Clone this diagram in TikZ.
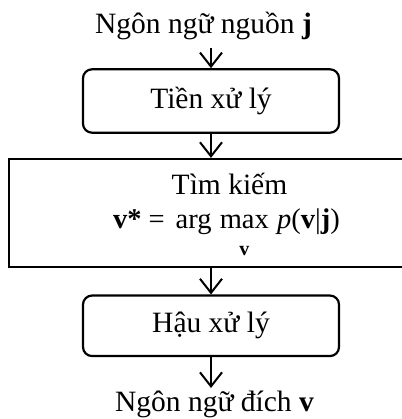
\documentclass[tikz,border=0pt]{standalone}
\usepackage{amsmath}
\usepackage{fontspec}
\setmainfont{Liberation Serif}
\usetikzlibrary{arrows.meta}
\begin{document}
\begin{tikzpicture}[x=1pt,y=1pt,
  every node/.style={font=\fontsize{29.5}{34}\selectfont},
  rbox/.style={draw, line width=2.2pt, rounded corners=9pt, minimum width=256pt, inner sep=0pt},
  sbox/.style={draw, line width=2.2pt, minimum width=438pt, minimum height=108pt, inner sep=0pt},
  txt/.style={inner sep=0pt, anchor=base},
  arr/.style={line width=2pt, -{Straight Barb[length=14pt,width=22pt]}}]
\useasboundingbox (0,0) rectangle (401,-419);
\node[txt] (src) at (203.5,-33.3) {Ngôn ngữ nguồn \textbf{j}};
\node[rbox, minimum height=63.4pt] (pre) at (211,-101) {Tiền xử lý};
\node[sbox] (search) at (228,-213) {};
\node[txt] (searchA) at (229.5,-195) {Tìm kiếm};
\node[txt, font=\fontsize{28.5}{34}\selectfont] (searchB) at (226.5,-228) {$\textbf{v*}\mathrel{\text{=}}\,\text{arg}\,\mathop{\text{max}}\limits_{\rule{0pt}{23pt}\textbf{v}}\,\textit{p}\text{(}\textbf{v}\text{|}\textbf{j}\text{)}$};
\node[rbox, minimum height=60.5pt] (post) at (211,-325.8) {Hậu xử lý};
\node[txt] (tgt) at (214.5,-411.7) {Ngôn ngữ đích \textbf{v}};
\draw[arr, shorten <=8pt] (pre.north |- src.south) -- (pre.north);
\draw[arr] (pre.south) -- (pre.south |- search.north);
\draw[arr] (post.north |- search.south) -- (post.north);
\draw[arr, shorten >=3pt] (post.south) -- (post.south |- tgt.north);
\end{tikzpicture}
\end{document}
